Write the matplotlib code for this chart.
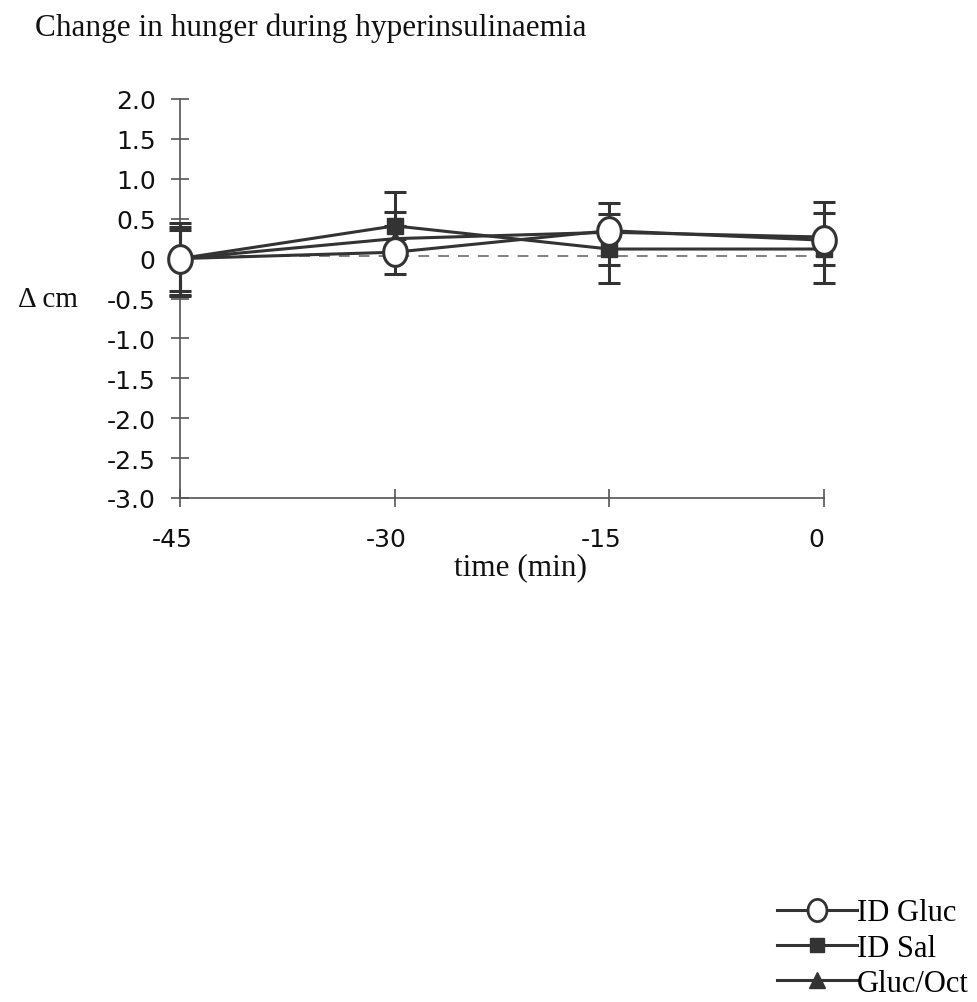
import numpy as np
import matplotlib
matplotlib.use("Agg")
import matplotlib.pyplot as plt
import matplotlib.transforms as mtransforms
from matplotlib.path import Path
from matplotlib.lines import Line2D

# ---- data ----
time = [-45, -30, -15, 0]
id_gluc = [0.0, 0.08, 0.35, 0.23]
id_gluc_lo = [0.47, 0.27, 0.0, 0.31]
id_gluc_hi = [0.45, 0.0, 0.35, 0.48]
id_sal = [0.0, 0.41, 0.12, 0.12]
id_sal_lo = [0.45, 0.0, 0.43, 0.42]
id_sal_hi = [0.40, 0.43, 0.44, 0.45]
gluc_oct = [0.0, 0.25, 0.33, 0.27]
gluc_oct_lo = [0.40, 0.0, 0.41, 0.0]
gluc_oct_hi = [0.36, 0.33, 0.0, 0.0]
reference = [0.03, 0.03, 0.03, 0.03]
yticks = [2.0, 1.5, 1.0, 0.5, 0, -0.5, -1.0, -1.5, -2.0, -2.5, -3.0]
ytick_labels = ["2.0", "1.5", "1.0", "0.5", "0", "-0.5", "-1.0", "-1.5", "-2.0", "-2.5", "-3.0"]
xticks = [-45, -30, -15, 0]
xtick_labels = ["-45", "-30", "-15", "0"]

serif = "Liberation Serif"
lc = "#333333"

fig = plt.figure(figsize=(9.78, 10.03), dpi=100)
ax = fig.add_axes([180/978, 1-499/1003, (824-180)/978, 399/1003])

# elliptical marker (taller than wide)
th = np.linspace(0, 2*np.pi, 60)
ell = Path(np.column_stack([0.85*np.cos(th), np.sin(th)]), closed=True)

ax.plot(time, reference, ls=(0, (6, 5)), color="#777777", lw=1.3, clip_on=False, zorder=1)

ax.errorbar(time, gluc_oct, yerr=[gluc_oct_lo, gluc_oct_hi], color=lc, lw=2.2,
            marker="^", ms=11, mfc=lc, mec=lc, capsize=8, capthick=2.2, elinewidth=2.2,
            clip_on=False, zorder=3, label="Gluc/Oct")
ax.errorbar(time, id_sal, yerr=[id_sal_lo, id_sal_hi], color=lc, lw=2.2,
            marker="s", ms=11, mfc=lc, mec=lc, capsize=8, capthick=2.2, elinewidth=2.2,
            clip_on=False, zorder=4, label="ID Sal")
ax.errorbar(time, id_gluc, yerr=[id_gluc_lo, id_gluc_hi], color=lc, lw=2.2,
            marker=ell, ms=20, mfc="white", mec=lc, mew=2.2, capsize=8, capthick=2.2,
            elinewidth=2.2, clip_on=False, zorder=5, label="ID Gluc")

ax.set_xlim(-45, 0)
ax.set_ylim(-3.0, 2.0)
ax.set_yticks(yticks)
ax.set_yticklabels(ytick_labels)
ax.set_xticks(xticks)
ax.set_xticklabels(xtick_labels)
for s in ["top", "right"]:
    ax.spines[s].set_visible(False)
for s in ["left", "bottom"]:
    ax.spines[s].set_color("#555555")
    ax.spines[s].set_linewidth(1.2)
ax.tick_params(axis="both", direction="inout", length=13, width=1.2, color="#555555",
               labelsize=18, labelcolor="#111111")
ax.tick_params(axis="y", pad=11)
ax.tick_params(axis="x", pad=14.5)
offset = mtransforms.ScaledTranslation(-8/100, 0, fig.dpi_scale_trans)
for lab in ax.get_xticklabels():
    lab.set_transform(lab.get_transform() + offset)

fig.text(35/978, 1-28/1003, "Change in hunger during hyperinsulinaemia", family=serif,
         fontsize=22.5, va="center", ha="left", color="#111111")
fig.text(18/978, 1-300/1003, "\u0394 cm", family=serif, fontsize=21, va="center", ha="left",
         color="#111111")
fig.text(521/978, 1-568/1003, "time (min)", family=serif, fontsize=22.5, va="center",
         ha="center", color="#111111")

hs = [Line2D([], [], color=lc, lw=2.2, marker=ell, ms=16, mfc="white", mec=lc, mew=2),
      Line2D([], [], color=lc, lw=2.2, marker="s", ms=10, mfc=lc, mec=lc),
      Line2D([], [], color=lc, lw=2.2, marker="^", ms=12, mfc=lc, mec=lc)]
leg = fig.legend(hs, ["ID Gluc", "ID Sal", "Gluc/Oct"], loc="lower right",
                 bbox_to_anchor=(1.009, -0.014), frameon=False,
                 prop={"family": serif, "size": 22}, handlelength=2.6, handletextpad=0.0,
                 labelspacing=0.2, borderaxespad=0.2)

fig.savefig("out.png", dpi=100)
